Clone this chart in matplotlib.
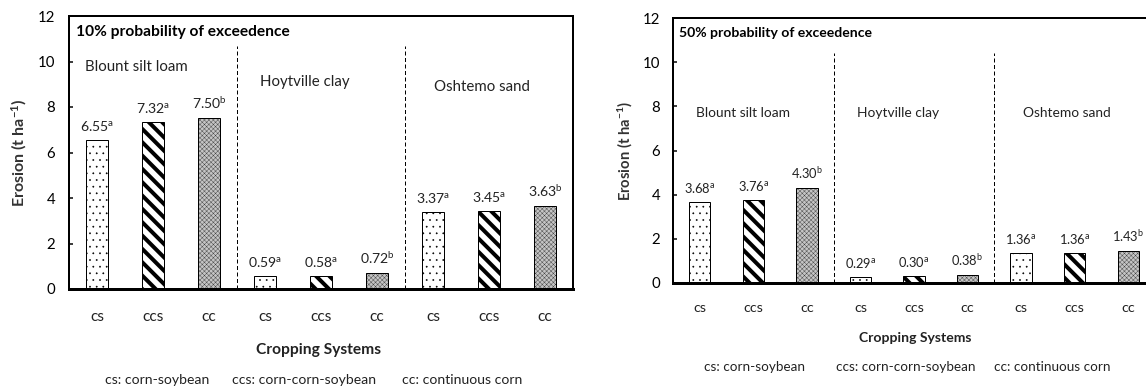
"""Erosion by cropping system and soil, 10% and 50% probability of exceedence."""
import matplotlib
matplotlib.use("Agg")
import matplotlib.pyplot as plt

DPI = 80


def px(v):
    # pixel size -> points at this dpi
    return v * 72.0 / DPI


plt.rcParams['font.family'] = ['Lato', 'DejaVu Sans']
plt.rcParams['mathtext.fontset'] = 'custom'
plt.rcParams['mathtext.rm'] = 'Lato'
plt.rcParams['mathtext.bf'] = 'Lato:bold'

# data
systems = ['cs', 'ccs', 'cc', 'cs', 'ccs', 'cc', 'cs', 'ccs', 'cc']
soils = ['Blount silt loam', 'Hoytville clay', 'Oshtemo sand']
erosion_10 = [6.55, 7.32, 7.50, 0.59, 0.58, 0.72, 3.37, 3.45, 3.63]
erosion_50 = [3.68, 3.76, 4.30, 0.29, 0.30, 0.38, 1.36, 1.36, 1.43]
letters = ['a', 'a', 'b', 'a', 'a', 'b', 'a', 'a', 'b']
footnotes = ['cs: corn-soybean', 'ccs: corn-corn-soybean', 'cc: continuous corn']

W, H = 1146, 389
fig = plt.figure(figsize=(W / DPI, H / DPI), dpi=DPI)


def make_panel(rect, values, title, soil_pos, div_top, scale, tick_pad, x_pad):
    ax = fig.add_axes([rect[0] / W, 1 - rect[3] / H, (rect[2] - rect[0]) / W, (rect[3] - rect[1]) / H])
    x = list(range(len(values)))
    styles = [
        dict(facecolor='white', hatch='..', lw=0.4),
        dict(facecolor='white', hatch='\\\\', lw=3.6),
        dict(facecolor='#c4c4c4', hatch='xxxxxx', lw=0.25),
    ]
    for i, v in enumerate(values):
        st = styles[i % 3]
        with plt.rc_context({'hatch.linewidth': st['lw']}):
            b = ax.bar(x[i], v, width=0.4, facecolor=st['facecolor'], edgecolor='black',
                       hatch=st['hatch'], linewidth=px(1.0), zorder=2)
        for p in b:
            if hasattr(p, 'set_hatch_linewidth'):
                p.set_hatch_linewidth(st['lw'])
        ax.annotate(f'{v:.2f}$\\mathregular{{^{{{letters[i]}}}}}$', xy=(x[i], v),
                    xytext=(0, px(9)), textcoords='offset points', ha='center', va='baseline',
                    fontsize=px(14 * scale), color='#222222')

    for d in [2.5, 5.5]:
        ax.plot([d, d], [0, div_top], ls=(0, (4, 2.5)), color='black', lw=px(1.0), zorder=1)

    ax.text(-0.38, title[1], title[0], fontsize=px(title[2]), fontweight='bold', va='center', ha='left')
    for name, (sx, sy) in zip(soils, soil_pos):
        ax.text(sx, sy, name, fontsize=px(15 * scale), ha='center', va='center', color='#222222')

    ax.set_xlim(-0.5, 8.5)
    ax.set_ylim(0, 12)
    ax.set_yticks(range(0, 13, 2))
    ax.set_xticks(x)
    ax.set_xticklabels(systems)
    ax.tick_params(axis='y', direction='in', length=px(4), width=px(1.5), labelsize=px(15), pad=px(tick_pad))
    ax.tick_params(axis='x', length=0, labelsize=px(15.5 * scale), pad=px(x_pad), labelcolor='#222222')
    for s in ['left', 'top', 'right']:
        ax.spines[s].set_linewidth(px(2))
    ax.spines['bottom'].set_linewidth(px(3))
    ax.set_ylabel('Erosion (t ha$\\mathregular{^{-1}}$)', fontsize=px(16 * scale), fontweight='bold',
                  color='#333333', labelpad=px(8))
    return ax


ax1 = make_panel((69, 16, 573, 289), erosion_10, ('10% probability of exceedence', 11.3, 15.5),
                 [(0.71, 9.76), (3.71, 9.1), (6.88, 8.88)], 10.7, 1.0, 14, 21)
ax2 = make_panel((673, 18, 1155, 283), erosion_50, ('50% probability of exceedence', 11.3, 14),
                 [(0.81, 7.7), (3.7, 7.7), (6.85, 7.7)], 10.4, 0.92, 13, 19)

# axis titles and footnotes
fig.text(319 / W, 1 - 350 / H, 'Cropping Systems', fontsize=px(15.5), fontweight='bold',
         ha='center', va='center', color='#222222')
fig.text(915 / W, 1 - 338 / H, 'Cropping Systems', fontsize=px(14), fontweight='bold',
         ha='center', va='center', color='#222222')
for fx, txt in zip([157, 304, 462], footnotes):
    fig.text(fx / W, 1 - 380 / H, txt, fontsize=px(14), ha='center', va='center', color='#222222')
for fx, txt in zip([754, 906, 1052], footnotes):
    fig.text(fx / W, 1 - 367 / H, txt, fontsize=px(13.5), ha='center', va='center', color='#222222')

fig.savefig('out.png', dpi=DPI)
